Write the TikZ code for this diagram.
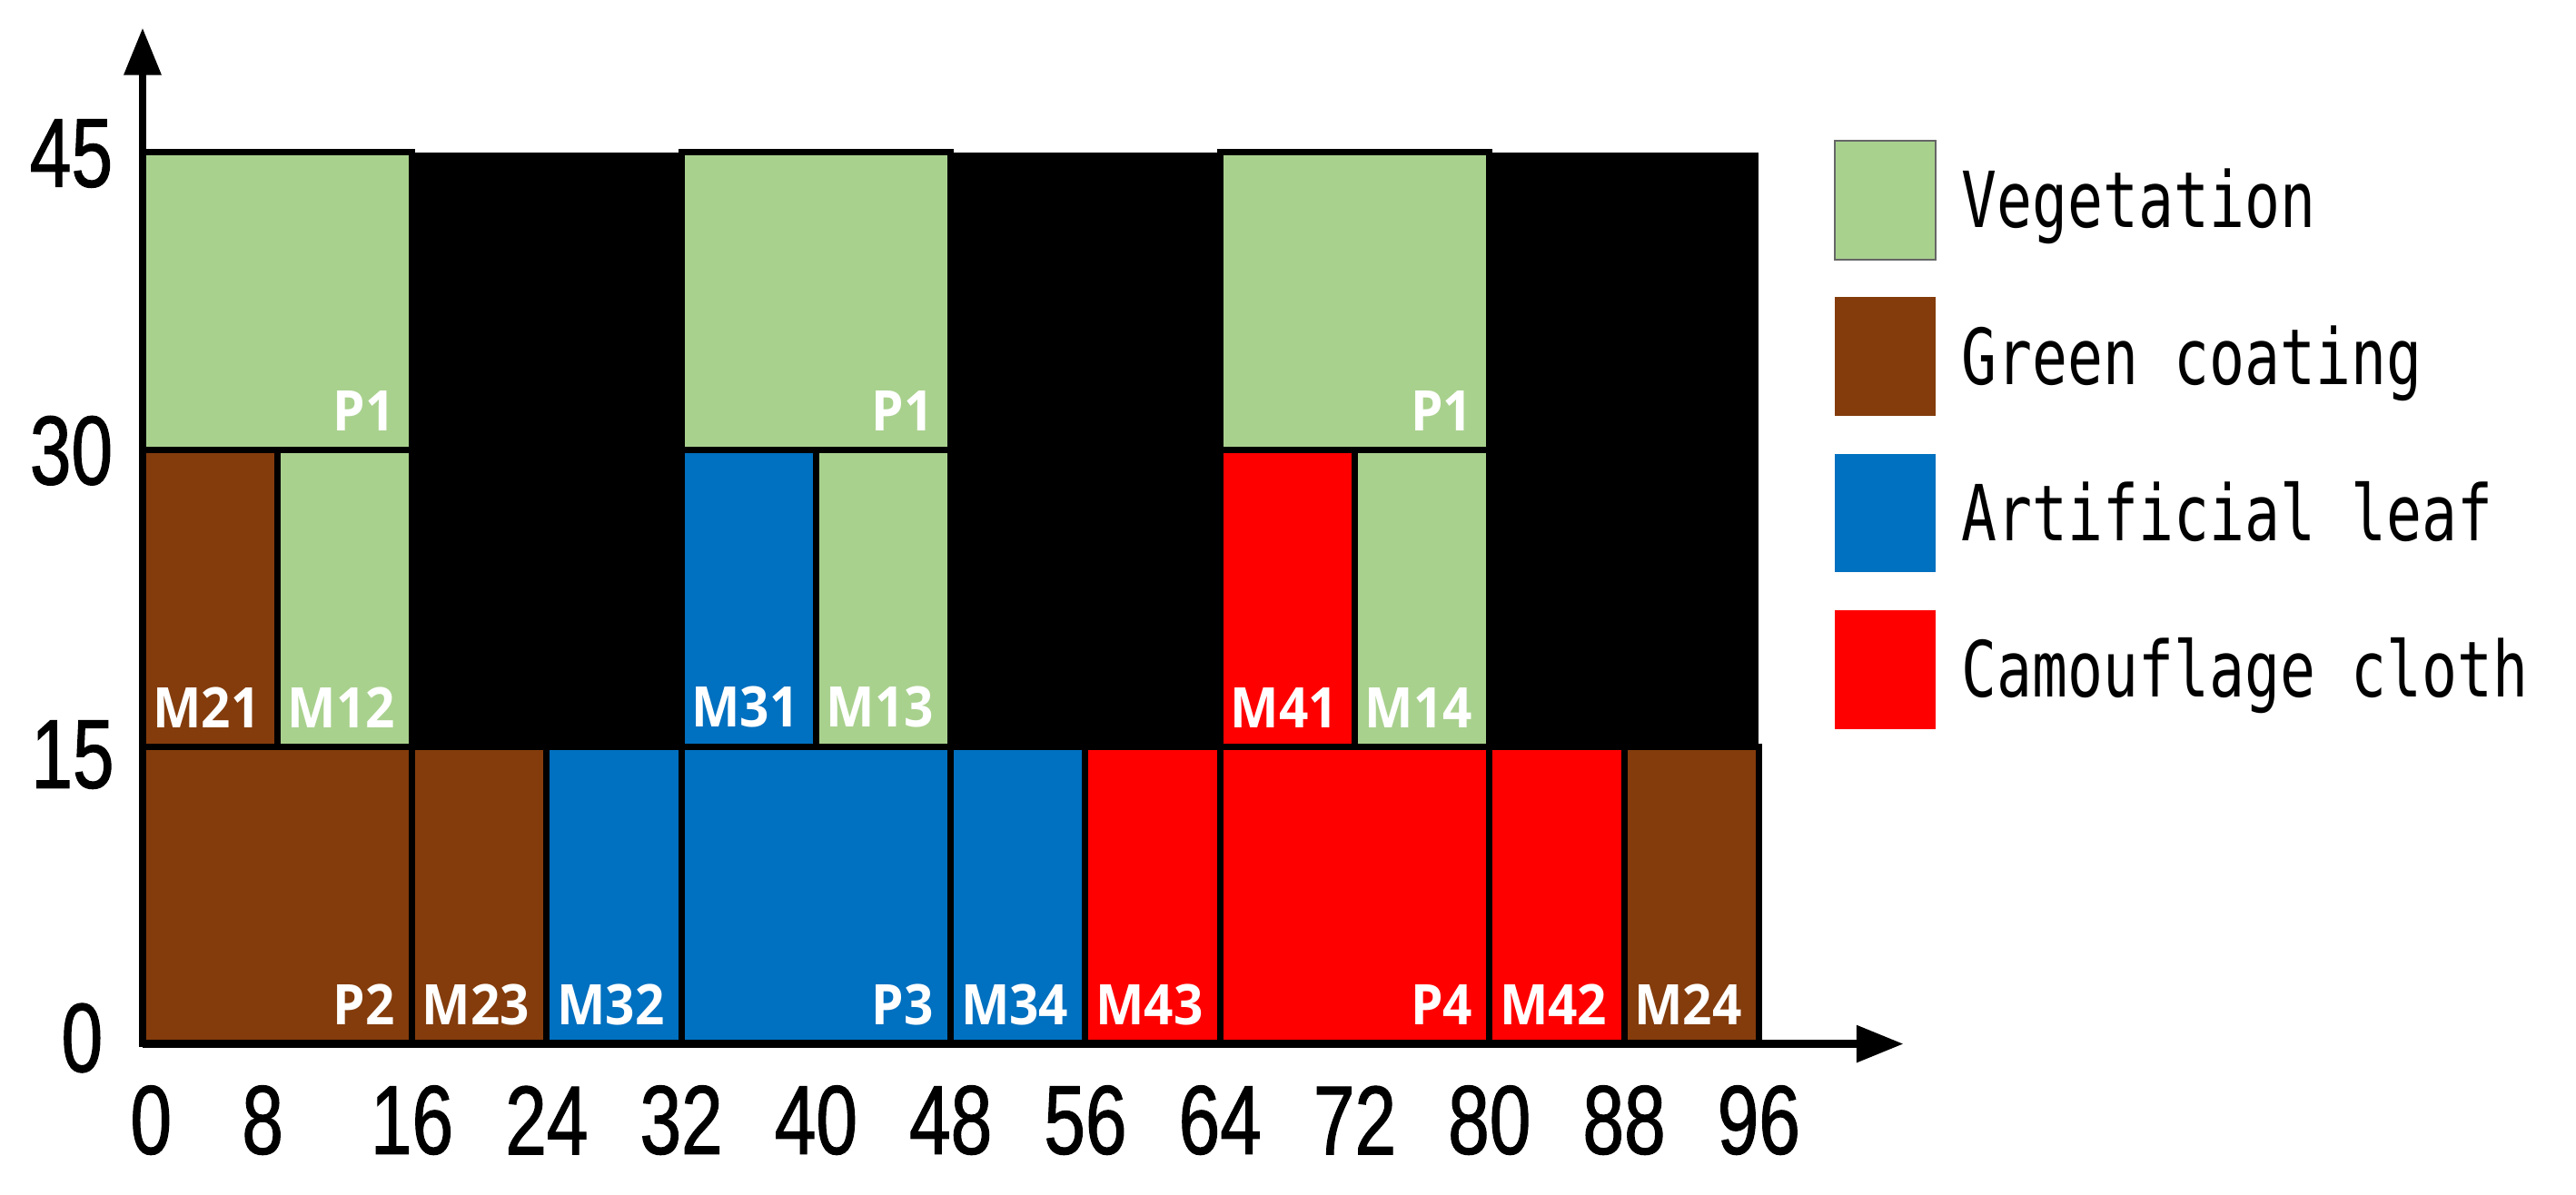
\documentclass[tikz,border=0pt]{standalone}
\usepackage{fontspec}
\usetikzlibrary{arrows.meta}
\newfontfamily\tickfont[FakeStretch=0.76,FakeBold=1]{Liberation Sans}
\newfontfamily\cellfont[FakeStretch=0.92]{Open Sans}
\newfontfamily\legfont[FakeStretch=0.76]{DejaVu Sans Mono}
\definecolor{veg}{HTML}{A9D18E}
\definecolor{coat}{HTML}{843C0C}
\definecolor{leaf}{HTML}{0070C0}
\definecolor{cloth}{HTML}{FF0000}
\tikzset{
  cellbox/.style={draw=black, line width=1.75pt},
  celllabel/.style={anchor=south east, inner sep=0pt, text=white,
    font=\cellfont\bfseries\fontsize{15.4pt}{15.4pt}\selectfont},
  tick/.style={inner sep=0pt, font=\tickfont\fontsize{27pt}{27pt}\selectfont},
  legbox/.style={line width=0.5pt},
  legtext/.style={anchor=base west, inner sep=0pt,
    font=\legfont\fontsize{21.3pt}{21.3pt}\selectfont},
  axisline/.style={line width=2.2pt, -{Triangle[length=13pt,width=9.8pt]}}
}
\newcommand\mycell[7]{%
  \fill[#5] (#1,#2) rectangle (#3,#4);
  \draw[cellbox] (#1,#2) rectangle (#3,#4);
  \node[celllabel] (#7) at ({#3-0.97},{#2+0.92}) {#6};
}
\begin{document}
\begin{tikzpicture}[x=4.635pt, y=5.455pt]
\useasboundingbox (-8.47,-7.61) rectangle (144.54,52.70);
% black background of the layout
\fill[black] (0,0) rectangle (96,45);
% top row
\mycell{0}{30}{16}{45}{veg}{P1}{p1a}
\mycell{32}{30}{48}{45}{veg}{P1}{p1b}
\mycell{64}{30}{80}{45}{veg}{P1}{p1c}
% middle row
\mycell{0}{15}{8}{30}{coat}{M21}{m21}
\mycell{8}{15}{16}{30}{veg}{M12}{m12}
\mycell{32}{15}{40}{30}{leaf}{M31}{m31}
\mycell{40}{15}{48}{30}{veg}{M13}{m13}
\mycell{64}{15}{72}{30}{cloth}{M41}{m41}
\mycell{72}{15}{80}{30}{veg}{M14}{m14}
% bottom row
\mycell{0}{0}{16}{15}{coat}{P2}{p2}
\mycell{16}{0}{24}{15}{coat}{M23}{m23}
\mycell{24}{0}{32}{15}{leaf}{M32}{m32}
\mycell{32}{0}{48}{15}{leaf}{P3}{p3}
\mycell{48}{0}{56}{15}{leaf}{M34}{m34}
\mycell{56}{0}{64}{15}{cloth}{M43}{m43}
\mycell{64}{0}{80}{15}{cloth}{P4}{p4}
\mycell{80}{0}{88}{15}{cloth}{M42}{m42}
\mycell{88}{0}{96}{15}{coat}{M24}{m24}
% axes
\coordinate (O) at (0,0);
\coordinate (ytip) at (0,51.3);
\coordinate (xtip) at (104.6,0);
\draw[axisline] (O) -- (ytip);
\draw[axisline] (O) -- (xtip);
% y tick labels
\node[tick, anchor=east] (y45) at (-1.73,44.95) {45};
\node[tick, anchor=east] (y30) at (-1.73,29.95) {30};
\node[tick, anchor=east] (y15) at (-1.65,14.6) {15};
\node[tick, anchor=east] (y0) at (-2.32,0.3) {0};
% x tick labels
\node[tick] (x0) at (0.5,-3.85) {0};
\node[tick] (x8) at (7.13,-3.85) {8};
\foreach \v in {16,24,...,96}{
  \node[tick] (x\v) at (\v,-3.85) {\v};
}
% legend
\draw[legbox, fill=veg, draw=black!60] (100.5,45.6) rectangle (106.5,39.6);
\fill[coat] (100.5,37.7) rectangle (106.5,31.7);
\fill[leaf] (100.5,29.8) rectangle (106.5,23.8);
\fill[cloth] (100.5,21.9) rectangle (106.5,15.9);
\node[legtext] (lveg) at (108.0,41.2) {Vegetation};
\node[legtext] (lcoat) at (108.0,33.3) {Green coating};
\node[legtext] (lleaf) at (108.0,25.4) {Artificial leaf};
\node[legtext] (lcloth) at (108.0,17.5) {Camouflage cloth};
\end{tikzpicture}
\end{document}
